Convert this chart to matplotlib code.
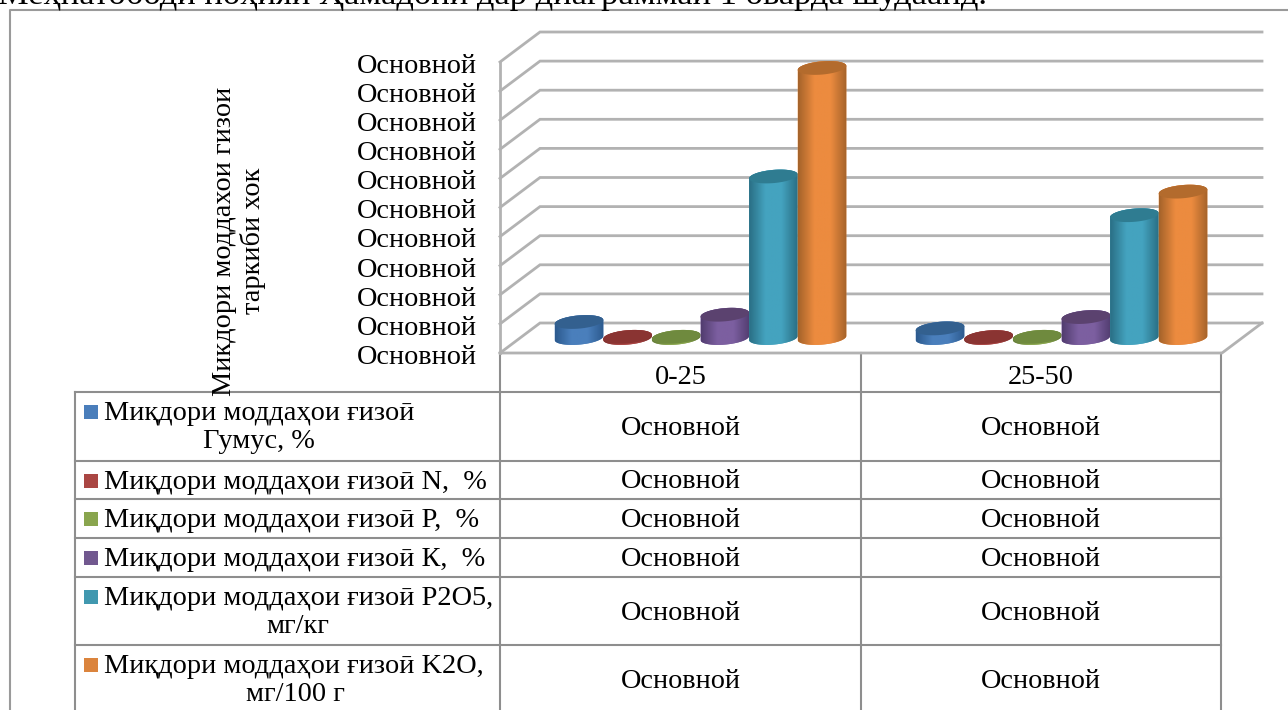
import numpy as np
import matplotlib
matplotlib.use("Agg")
import matplotlib.pyplot as plt
from matplotlib.colors import LinearSegmentedColormap
from matplotlib.patches import Polygon
from matplotlib.transforms import ScaledTranslation

plt.rcParams['font.family'] = ['Liberation Serif', 'DejaVu Serif']

W, H = 1288, 710

categories = ['0-25', '25-50']
series_names = ['Гумус', 'N', 'P', 'K', 'P2O5', 'K2O']
gumus = [0.55, 0.33]
nitrogen = [0.04, 0.03]
phosphorus = [0.04, 0.04]
potassium = [0.80, 0.72]
p2o5 = [5.55, 4.22]
k2o = [9.28, 5.03]
grid_levels = list(range(11))
tick_text = 'Основной'
cell_text = 'Основной'
row_lines = [
    ['Миқдори моддаҳои ғизоӣ', 'Гумус, %'],
    ['Миқдори моддаҳои ғизоӣ N,  %'],
    ['Миқдори моддаҳои ғизоӣ P,  %'],
    ['Миқдори моддаҳои ғизоӣ К,  %'],
    ['Миқдори моддаҳои ғизоӣ P2O5,', 'мг/кг'],
    ['Миқдори моддаҳои ғизоӣ K2O,', 'мг/100 г'],
]
key_colors = ['#4a7ebb', '#aa4643', '#89a54e', '#71588f', '#4198af', '#db843d']
body_mid = ['#4a7fbc', '#a94442', '#8aa64e', '#7c5fa0', '#44a3bf', '#ec8b3f']
body_edge = ['#2c5a8e', '#7a2f2d', '#62793a', '#523d70', '#2a6f85', '#a5632a']
top_colors = ['#33608f', '#8a3432', '#6f8a3e', '#5b426f', '#2f7c91', '#b36b2d']
grid_color = '#b2b2b2'
line_color = '#8e8e8e'
title_text = 'Меҳнатободи ноҳияи Ҳамадони дар диаграммаи 1 оварда шудаанд.'
ylabel_text = 'Микдори моддахои гизои\nтаркиби хок'
FS = 20.3
FS_ROW = 20.4

fig = plt.figure(figsize=(W / 100, H / 100), dpi=100, facecolor='white')

# page layer, in pixel coordinates
page = fig.add_axes([0, 0, 1, 1], zorder=0)
page.set_xlim(0, W)
page.set_ylim(H, 0)
page.axis('off')

page.text(-2, 4, title_text, fontsize=24.8, ha='left', va='baseline', color='black', clip_on=False)
page.plot([10, 10, W], [H, 10, 10], color='#9a9a9a', lw=1.5, solid_capstyle='butt')

row_edges = [392, 461, 499, 538, 577, 645, 714]
col_edges = [75, 500, 861, 1221]
for y in row_edges:
    page.plot([col_edges[0], col_edges[-1]], [y, y], color=line_color, lw=1.5)
for x in col_edges[1:]:
    page.plot([x, x], [353, H], color=line_color, lw=1.5)
page.plot([col_edges[0]] * 2, [392, H], color=line_color, lw=1.5)

for name, xc in zip(categories, [681, 1041]):
    page.text(xc, 378, name, fontsize=FS, ha='center', va='center')

line_h = 28
second_x = [259, None, None, None, 298, 295]
for i, lines in enumerate(row_lines):
    y0, y1 = row_edges[i], row_edges[i + 1]
    first = y0 + 21.5
    page.add_patch(plt.Rectangle((84, first - 9), 14, 14, color=key_colors[i], lw=0))
    page.text(104, first, lines[0], fontsize=FS_ROW, ha='left', va='center')
    if len(lines) > 1:
        page.text(second_x[i], first + line_h, lines[1], fontsize=FS_ROW, ha='center', va='center')
    yc = min((y0 + y1) / 2, H - 30) + 2
    for xc in [681, 1041]:
        page.text(xc, yc, cell_text, fontsize=FS, ha='center', va='center')

page.text(239, 241, ylabel_text, rotation=90, fontsize=FS_ROW, ha='center', va='center',
          multialignment='center', linespacing=1.12)

# chart layer: y in value units, x in category units
L, R, T, B = 500, 1262, 31, 353
ax = fig.add_axes([L / W, 1 - B / H, (R - L) / W, (B - T) / H], zorder=1)
ax.patch.set_alpha(0)
PX_V = 29.1
PX_C = 361.0
dx = 20 / PX_C
dv = 15 / PX_V
ax.set_xlim(-dx, (R - L - 20) / PX_C)
ax.set_ylim(-dv, (B - T - 15) / PX_V)
for s in ax.spines.values():
    s.set_visible(False)
ax.set_xticks([])
ax.set_yticks([v - dv for v in grid_levels])
ax.set_yticklabels([tick_text] * len(grid_levels), fontsize=FS)
ax.tick_params(axis='y', length=0, pad=17)
nudge = ScaledTranslation(0, -1 / 72, fig.dpi_scale_trans)
for lab in ax.get_yticklabels():
    lab.set_transform(lab.get_transform() + nudge)

for v in grid_levels:
    ax.plot([-dx, dx, 2 + dx], [v - dv, v + dv, v + dv], color=grid_color, lw=2.0,
            clip_on=False, zorder=1, solid_joinstyle='miter')
ax.plot([-dx, -dx], [-dv, 10 - dv], color=grid_color, lw=2.0, clip_on=False, zorder=1)
ax.plot([-dx, 2 - dx, 2 + dx], [-dv, -dv, dv], color=grid_color, lw=2.0, clip_on=False, zorder=1)

# cylinders
series = [gumus, nitrogen, phosphorus, potassium, p2o5, k2o]
bar_w = 48.6 / PX_C
a = bar_w / 2
b = 6.6 / PX_V
tilt = 2.0 / PX_V
t = np.linspace(0, 2 * np.pi, 80)
n = len(series)
z = 3
for gi in range(len(categories)):
    cx0 = gi + 0.5
    for si in range(n):
        val = series[si][gi]
        cx = cx0 + (si - (n - 1) / 2) * bar_w
        ex = cx + a * np.cos(t)
        ey = b * np.sin(t) + tilt * np.cos(t)
        # body outline: bottom half of the base, then top half of the cap
        low_mask = np.sin(t) <= 0
        high_mask = np.sin(t) >= 0
        lo = np.argsort(ex[low_mask])
        hi = np.argsort(ex[high_mask])[::-1]
        body_x = np.r_[ex[low_mask][lo], ex[high_mask][hi]]
        body_y = np.r_[ey[low_mask][lo], ey[high_mask][hi] + val]
        body = Polygon(np.c_[body_x, body_y], closed=True, facecolor=body_mid[si], edgecolor='none', zorder=z)
        ax.add_patch(body)
        cmap = LinearSegmentedColormap.from_list('c', [body_edge[si], body_mid[si], body_mid[si], body_edge[si]])
        im = ax.imshow(np.linspace(0, 1, 64).reshape(1, -1), cmap=cmap, aspect='auto',
                       extent=[cx - a, cx + a, -b * 1.5, val + b * 1.5], zorder=z + 0.1, interpolation='bilinear')
        im.set_clip_path(body)
        cap = Polygon(np.c_[ex, ey + val], closed=True, facecolor=top_colors[si], edgecolor='none', zorder=z + 0.2)
        ax.add_patch(cap)
        z += 1

ax.set_xlim(-dx, (R - L - 20) / PX_C)
ax.set_ylim(-dv, (B - T - 15) / PX_V)

fig.savefig('out.png', dpi=100)
